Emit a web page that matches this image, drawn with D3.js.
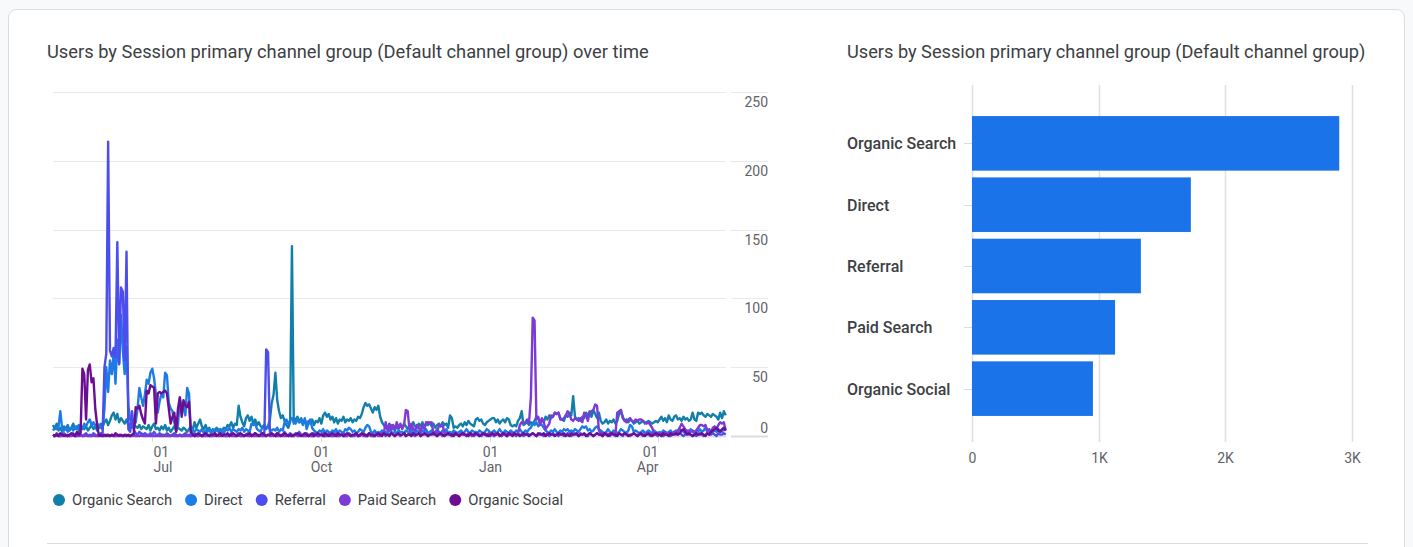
<!DOCTYPE html>
<html><head><meta charset="utf-8">
<script src="https://cdn.jsdelivr.net/npm/d3@7"></script>
<style>
html,body{margin:0;padding:0;background:#f8f9fa;}
svg{display:block;font-family:Roboto,"Noto Sans",Arial,sans-serif;}
</style></head>
<body>
<script>
// ---------------- DATA ----------------
const seriesNames = ["Organic Search","Direct","Referral","Paid Search","Organic Social"];
const seriesColors = ["#127fab","#1e7be6","#4b4ded","#7c3bd6","#6b0e93"];
const startDate = new Date(2023, 4, 8); // first daily point

const organicSearch = [
8,5,9,4,6,3,7,5,8,4,
6,9,5,7,4,8,6,5,7,4,
6,8,5,7,4,6,9,7,10,12,
8,11,15,17,12,16,10,13,11,9,
12,8,9,6,8,7,6,8,5,7,
6,5,8,4,7,9,5,6,4,7,
5,8,4,6,3,5,7,4,6,5,
4,6,5,3,5,7,4,10,6,9,
12,7,5,8,4,6,3,5,4,6,
3,5,4,6,5,8,7,10,6,9,
8,22,14,10,7,13,15,11,14,9,
12,8,10,7,6,8,5,7,12,24,
30,46,26,18,13,15,11,8,6,10,
138,9,12,14,10,13,9,12,8,11,
9,12,8,11,10,13,9,15,17,14,
16,12,14,10,13,9,12,11,14,10,
12,11,13,10,12,11,14,13,16,21,
24,22,23,20,17,21,19,22,14,10,
8,6,7,5,8,6,4,7,5,8,
6,9,7,5,8,6,10,7,6,9,
7,10,6,9,8,10,7,9,6,8,
9,7,10,8,9,6,15,13,6,7,
6,8,9,7,10,8,11,9,8,7,
12,13,11,12,9,8,10,11,12,13,
13,10,12,9,11,12,10,13,12,8,
7,8,7,11,13,18,8,9,10,8,
10,9,11,14,13,10,12,10,14,12,
15,13,14,17,16,17,13,12,11,15,
14,17,15,29,14,12,13,11,14,13,
17,15,18,14,19,16,13,17,11,9,
10,12,9,11,10,12,9,11,16,18,
14,11,12,10,12,11,9,10,11,9,
10,11,9,10,11,10,9,10,11,10,
12,14,11,13,10,15,12,11,14,15,
12,13,11,14,12,13,11,12,17,12,
11,17,16,17,15,14,16,15,14,16,
15,14,12,17,13,18,15];

const direct = [
4,6,5,7,18,5,4,6,3,5,
6,4,7,5,8,6,5,9,7,10,
12,8,10,7,9,8,6,5,20,50,
32,55,45,60,38,70,52,88,62,45,
65,22,12,9,8,10,20,35,28,22,
30,41,38,46,49,42,30,17,25,31,
28,46,44,24,20,18,10,4,8,28,
20,21,15,35,31,2,4,3,5,4,
3,5,2,4,3,5,2,4,3,4,
5,3,4,2,5,4,6,3,5,4,
3,5,4,6,3,5,4,3,9,8,
9,5,4,3,7,8,6,7,5,4,
5,4,6,3,5,4,10,12,9,11,
13,10,9,12,10,11,8,13,5,9,
12,6,4,3,2,4,3,5,2,4,
3,2,4,3,5,2,4,3,2,5,
4,6,5,3,4,2,3,5,4,3,
6,8,7,3,2,4,2,3,2,4,
2,3,2,4,3,2,3,2,4,3,
3,2,4,3,2,5,3,2,4,3,
2,4,3,5,2,3,4,2,3,5,
3,2,4,3,5,2,3,2,4,3,
2,3,4,2,3,5,3,2,4,3,
3,2,4,3,2,3,5,4,2,3,
4,2,3,5,3,2,4,3,2,4,
3,2,4,3,5,3,2,4,3,5,
6,9,8,10,7,9,8,6,4,3,
2,4,3,5,3,2,4,3,5,4,
5,3,4,3,5,4,3,5,7,6,
7,4,5,3,4,6,7,5,4,3,
2,3,5,3,2,4,3,2,3,5,
4,3,2,4,8,7,3,4,3,2,
3,4,2,3,4,3,2,4,3,2,
3,2,4,3,2,3,4,2,3,4,
3,5,4,3,2,4,3,5,3,2,
4,3,5,3,4,6,3,4,2,3,
4,3,5,4,3,5,4];

const referral = [
1,0,2,1,0,1,2,0,1,0,
1,2,0,1,3,1,0,1,2,0,
1,0,2,1,0,1,2,2,50,60,
214,62,58,64,57,141,53,108,105,55,
134,5,3,18,4,2,1,3,2,1,
2,1,0,2,1,3,1,0,2,1,
1,0,2,1,0,1,2,1,0,1,
0,1,2,0,1,0,1,2,1,0,
1,0,1,2,0,1,0,1,2,1,
0,1,2,1,0,1,0,2,1,0,
1,2,0,1,0,1,2,1,0,1,
2,1,0,1,2,2,63,61,3,1,
0,1,2,1,0,1,3,1,0,2,
1,0,2,1,3,1,0,1,2,0,
1,0,2,1,0,1,1,2,0,1,
2,1,0,1,2,0,1,1,2,0,
1,2,1,0,1,2,0,1,1,2,
0,1,2,1,0,1,2,1,0,1,
2,0,1,1,2,1,0,2,1,0,
1,2,0,1,1,2,1,0,1,2,
0,1,1,2,0,1,2,1,1,0,
2,1,0,1,2,1,1,0,2,1,
1,0,2,1,1,0,1,2,1,0,
1,2,1,0,1,2,1,1,0,2,
0,1,2,1,0,1,2,0,1,1,
2,1,0,2,1,1,0,1,2,1,
1,2,1,0,1,2,1,0,1,2,
0,1,2,1,1,0,2,1,0,1,
2,1,0,1,2,1,0,2,1,1,
1,0,2,1,0,1,2,1,1,0,
2,1,1,0,2,1,0,1,2,1,
0,2,1,1,0,1,2,1,0,2,
1,0,1,2,1,0,2,1,1,0,
2,1,0,1,1,2,0,1,2,1,
1,2,1,0,1,2,1,1,0,1,
0,1,2,1,0,1,2,1,1,2,
1,0,2,1,1,2,1];

const paidSearch = [
0,0,1,0,0,0,1,0,0,0,
0,1,0,0,0,1,0,0,1,0,
0,0,1,0,0,1,0,0,0,1,
0,0,1,0,0,0,1,0,0,0,
1,0,0,0,1,0,0,0,1,0,
0,0,1,0,0,0,0,1,0,0,
0,1,0,0,0,1,0,0,0,1,
0,0,0,1,0,0,1,0,0,0,
1,0,0,0,1,0,0,0,0,1,
0,0,1,0,0,0,1,0,0,0,
0,1,0,0,0,1,0,0,1,0,
0,0,1,0,0,0,0,1,0,0,
1,0,0,0,1,0,0,0,1,0,
0,0,1,0,0,1,0,0,0,1,
0,0,0,1,0,0,1,0,0,0,
1,0,0,0,1,0,0,1,0,0,
0,1,0,0,0,1,0,0,1,0,
0,0,1,0,0,0,1,0,1,2,
2,10,4,9,4,8,5,10,6,9,
5,8,19,18,4,9,5,4,8,6,
3,8,5,10,10,9,10,2,3,2,
8,7,8,2,1,2,1,0,1,2,
1,0,2,1,1,0,2,1,0,1,
2,1,0,1,2,1,0,2,1,1,
0,2,1,1,0,2,1,0,1,2,
1,2,1,2,8,10,9,10,12,10,
28,86,84,12,14,8,13,10,5,7,
9,15,14,17,16,17,12,12,13,15,
18,16,12,11,13,12,11,13,10,17,
15,11,17,18,19,23,22,4,2,2,
1,2,1,2,1,2,1,17,18,19,
13,11,10,12,13,11,10,12,11,12,
12,11,10,9,10,8,6,2,1,2,
1,2,1,3,2,1,2,1,3,2,
4,6,9,7,5,3,4,3,4,3,
4,6,8,8,7,8,4,5,3,6,
7,5,8,10,9,10,4];

const organicSocial = [
1,0,1,0,2,1,0,1,0,1,
2,1,0,3,1,2,49,45,12,48,
52,39,42,20,8,0,1,0,1,0,
1,0,1,0,2,1,0,1,0,1,
0,1,0,1,2,21,20,22,16,12,
9,33,31,37,36,35,9,31,32,31,
32,33,31,20,9,14,17,3,20,28,
14,26,22,21,25,3,1,0,1,2,
1,0,1,2,1,0,1,1,2,0,
1,2,0,1,1,2,0,1,2,1,
0,1,2,1,0,1,1,2,0,1,
2,1,0,1,2,1,0,1,1,2,
1,0,2,1,0,1,2,1,0,1,
0,1,1,2,1,0,1,2,1,0,
1,2,0,1,2,1,1,0,2,1,
0,1,2,1,0,2,1,1,0,1,
2,1,0,1,1,2,0,1,2,1,
1,0,2,1,1,0,1,2,1,0,
2,1,1,0,2,1,0,1,2,1,
1,2,0,1,1,0,2,1,1,2,
0,1,2,1,0,1,1,2,1,0,
1,2,1,0,1,2,1,1,0,2,
1,0,1,2,1,1,0,2,1,1,
2,1,0,1,2,1,1,0,1,2,
1,1,2,0,1,2,1,0,2,1,
0,2,1,1,0,1,2,1,1,0,
1,2,1,0,2,1,1,2,0,1,
2,1,1,0,1,2,1,1,2,0,
1,0,2,1,1,2,0,1,1,2,
0,1,2,1,0,1,2,1,1,0,
2,1,0,1,2,1,1,0,2,1,
1,2,1,0,1,1,2,1,0,1,
2,1,0,1,2,1,0,1,2,1,
1,0,2,1,1,0,2,1,1,2,
1,2,4,5,3,1,2,1,0,1,
2,1,1,2,1,0,2,1,3,4,
5,6,4,3,5,6,4];

const lineYTicks = [0, 50, 100, 150, 200, 250];
const xTickDates = ["2023-07-01","2023-10-01","2024-01-01","2024-04-01"];
const xTickDays = ["01","01","01","01"];
const xTickMonths = ["Jul","Oct","Jan","Apr"];

const channels = ["Organic Search","Direct","Referral","Paid Search","Organic Social"];
const channelUsers = [2903, 1730, 1335, 1131, 956];
const barXTicks = [0, 1000, 2000, 3000];
const barXTickLabels = ["0","1K","2K","3K"];

const leftTitle = "Users by Session primary channel group (Default channel group) over time";
const rightTitle = "Users by Session primary channel group (Default channel group)";

// ---------------- DRAW ----------------
const W = 1413, H = 547;
const svg = d3.select("body").append("svg").attr("width", W).attr("height", H);

// card
svg.append("rect").attr("x", 8.5).attr("y", 9.5).attr("width", 1396).attr("height", 600)
  .attr("rx", 8).attr("fill", "#fff").attr("stroke", "#dadce0");
svg.append("line").attr("x1", 47).attr("x2", 1368).attr("y1", 543.5).attr("y2", 543.5)
  .attr("stroke", "#dadce0");

function fitWidth(sel, target) {
  const w = sel.node().getComputedTextLength();
  const fs = parseFloat(sel.attr("font-size"));
  sel.attr("font-size", (fs * target / w).toFixed(2));
}
const t1 = svg.append("text").attr("x", 47).attr("y", 58).attr("font-size", 17)
  .attr("fill", "#3c4043").text(leftTitle);
fitWidth(t1, 602);
const t2 = svg.append("text").attr("x", 847).attr("y", 58).attr("font-size", 17)
  .attr("fill", "#3c4043").text(rightTitle);
fitWidth(t2, 519);

// ----- line chart -----
const parse = d3.timeParse("%Y-%m-%d");
const n = organicSearch.length;
const dates = d3.range(n).map(i => d3.timeDay.offset(startDate, i));
const x = d3.scaleTime().domain([dates[0], dates[n - 1]]).range([53, 725.7]);
const y = d3.scaleLinear().domain([0, 250]).range([436, 92.25]);

const grid = svg.append("g");
lineYTicks.forEach(t => {
  const yy = Math.round(y(t)) + 0.5;
  grid.append("line").attr("x1", 53).attr("x2", 726).attr("y1", yy).attr("y2", yy)
    .attr("stroke", t === 0 ? "#dadce0" : "#e8eaed").attr("stroke-width", t === 0 ? 2 : 1);
  grid.append("line").attr("x1", 731).attr("x2", 768).attr("y1", yy).attr("y2", yy)
    .attr("stroke", t === 0 ? "#dadce0" : "#e8eaed").attr("stroke-width", t === 0 ? 2 : 1);
  grid.append("text").attr("x", 768).attr("y", t === 0 ? yy - 4 : yy + 14)
    .attr("text-anchor", "end").attr("font-size", 14).attr("fill", "#5f6368").text(t);
});

// x ticks
const xt = svg.append("g");
xTickDates.forEach((ds, k) => {
  const xx = Math.round(x(parse(ds))) + 0.5;
  xt.append("line").attr("x1", xx).attr("x2", xx).attr("y1", 437).attr("y2", 442)
    .attr("stroke", "#dadce0");
  const anchor = k === 0 ? "start" : (k === xTickDates.length - 1 ? "end" : "middle");
  const tx = k === 0 ? xx + 1 : xx;
  xt.append("text").attr("x", tx).attr("y", 457).attr("text-anchor", anchor)
    .attr("font-size", 14).attr("fill", "#5f6368").text(xTickDays[k]);
  xt.append("text").attr("x", tx).attr("y", 472).attr("text-anchor", anchor)
    .attr("font-size", 14).attr("fill", "#5f6368").text(xTickMonths[k]);
});

const allSeries = [organicSearch, direct, referral, paidSearch, organicSocial];
const line = d3.line().x((d, i) => x(dates[i])).y(d => y(d));
const lines = svg.append("g");
allSeries.forEach((s, k) => {
  lines.append("path").attr("d", line(s)).attr("fill", "none")
    .attr("stroke", seriesColors[k]).attr("stroke-width", 2.4)
    .attr("stroke-linejoin", "round");
});

// legend
const lg = svg.append("g");
let lx = 59;
seriesNames.forEach((nm, k) => {
  lg.append("circle").attr("cx", lx).attr("cy", 500).attr("r", 6).attr("fill", seriesColors[k]);
  const tt = lg.append("text").attr("x", lx + 13).attr("y", 505).attr("font-size", 14.8)
    .attr("fill", "#3c4043").text(nm);
  lx = lx + 13 + tt.node().getComputedTextLength() + 19;
});

// ----- bar chart -----
const xb = d3.scaleLinear().domain([0, 3000]).range([972, 1351.5]);
const yb = d3.scaleBand().domain(channels).range([113, 419]).paddingInner(0.11).paddingOuter(0.05);

const bg = svg.append("g");
barXTicks.forEach((t, k) => {
  const xx = Math.round(xb(t)) + 0.5;
  bg.append("line").attr("x1", xx).attr("x2", xx).attr("y1", 85).attr("y2", 442)
    .attr("stroke", "#e0e0e0").attr("stroke-width", 1.5);
  bg.append("text").attr("x", xx).attr("y", 463).attr("text-anchor", "middle")
    .attr("font-size", 14).attr("fill", "#5f6368").text(barXTickLabels[k]);
});
channels.forEach((c, k) => {
  const cy = yb(c) + yb.bandwidth() / 2;
  bg.append("line").attr("x1", 964).attr("x2", 972).attr("y1", Math.round(cy) + 0.5)
    .attr("y2", Math.round(cy) + 0.5).attr("stroke", "#dadce0");
  bg.append("rect").attr("x", xb(0)).attr("y", yb(c)).attr("width", xb(channelUsers[k]) - xb(0))
    .attr("height", yb.bandwidth()).attr("fill", "#1a73e8");
  bg.append("text").attr("x", 847).attr("y", cy + 6).attr("font-size", 16)
    .attr("font-weight", 500).attr("fill", "#3c4043").text(c);
});
</script>
</body></html>
